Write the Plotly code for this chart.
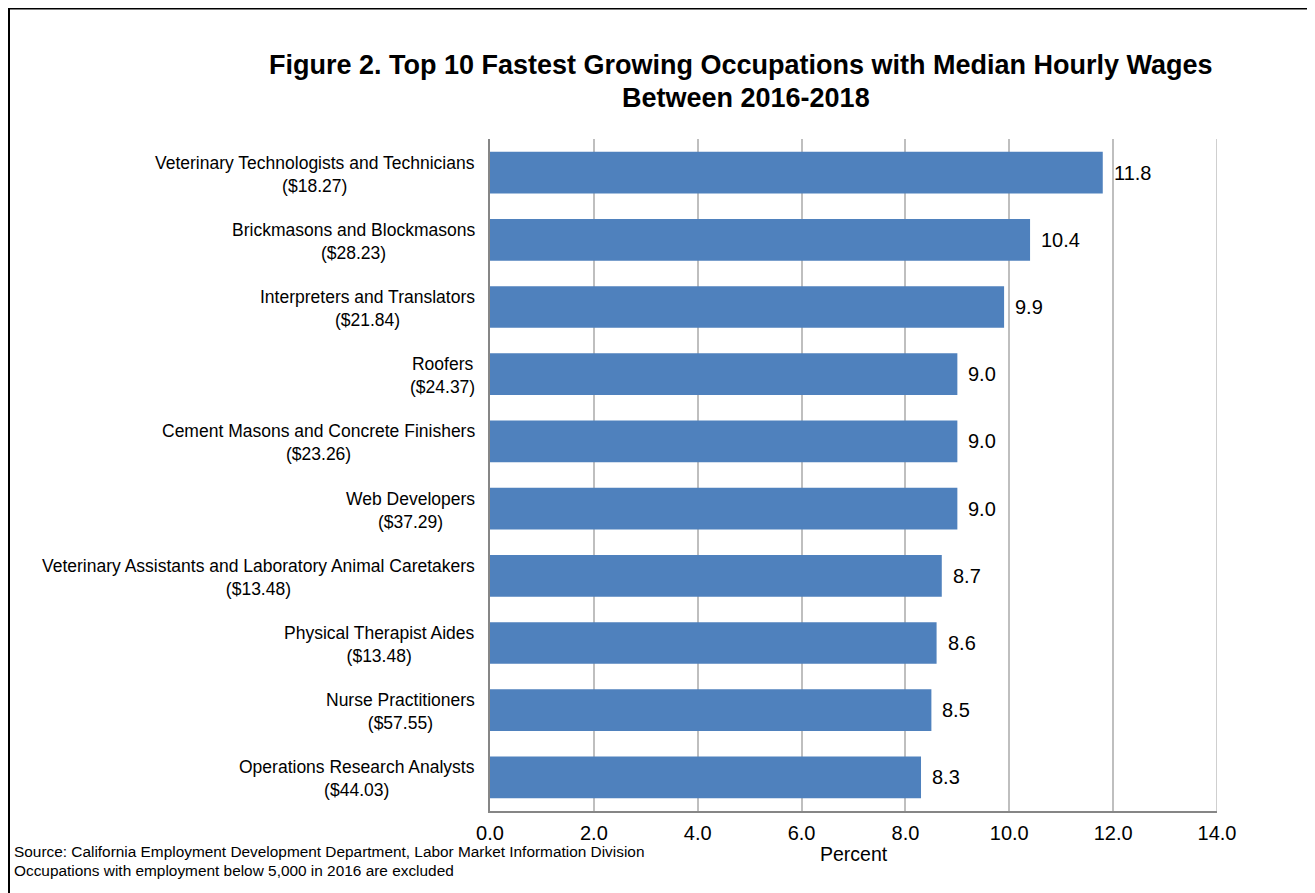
import plotly.graph_objects as go

occupations = [
    "Veterinary Technologists and Technicians",
    "Brickmasons and Blockmasons",
    "Interpreters and Translators",
    "Roofers",
    "Cement Masons and Concrete Finishers",
    "Web Developers",
    "Veterinary Assistants and Laboratory Animal Caretakers",
    "Physical Therapist Aides",
    "Nurse Practitioners",
    "Operations Research Analysts",
]
wages = ["$18.27", "$28.23", "$21.84", "$24.37", "$23.26",
         "$37.29", "$13.48", "$13.48", "$57.55", "$44.03"]
growth = [11.8, 10.4, 9.9, 9.0, 9.0, 9.0, 8.7, 8.6, 8.5, 8.3]
x_ticks = [0, 2, 4, 6, 8, 10, 12, 14]
x_ticktext = ["0.0", "2.0", "4.0", "6.0", "8.0", "10.0", "12.0", "14.0"]
title_lines = ["Figure 2. Top 10 Fastest Growing Occupations with Median Hourly Wages",
               "Between 2016-2018"]
source_lines = ["Source: California Employment Development Department, Labor Market Information Division",
                "Occupations with employment below 5,000 in 2016 are excluded"]

# page offset (browser body margin)
OFF = 8
W, H = 1307, 885
L, T = 490 - OFF, 139 - OFF
R = W - (1217 - OFF)
B = H - (811 - OFF)
pw, ph = W - L - R, H - T - B


def px(page_x):
    return (page_x - OFF - L) / pw


def py(page_y):
    return (H - B - (page_y - OFF)) / ph


FONT = "Arial, Liberation Sans, sans-serif"
BLACK = "#000000"
GRID = "#BFBFBF"

fig = go.Figure()
fig.add_trace(go.Bar(
    y=occupations, x=growth, orientation="h",
    marker=dict(color="#4F81BD", line=dict(width=0)),
    width=0.62, hoverinfo="skip",
))

annotations = []
for occ, w, g in zip(occupations, wages, growth):
    annotations.append(dict(
        x=0, xref="paper", y=occ, yref="y", xanchor="right", yanchor="middle",
        xshift=-13, yshift=-1.5, align="center", showarrow=False,
        text=f"{occ}<br>({w})", font=dict(family=FONT, size=17.5, color=BLACK),
    ))
    annotations.append(dict(
        x=g, xref="x", y=occ, yref="y", xanchor="left", yanchor="middle",
        xshift=9, showarrow=False, text=f"{g:.1f}",
        font=dict(family=FONT, size=20, color=BLACK),
    ))

# Title (two lines)
for txt, cx, cy in zip(title_lines, [740.5, 746], [65, 97.5]):
    annotations.append(dict(
        x=px(cx), xref="paper", y=py(cy), yref="paper",
        xanchor="center", yanchor="middle", showarrow=False,
        text=f"<b>{txt}</b>", font=dict(family=FONT, size=27, color=BLACK),
    ))

# Axis title
annotations.append(dict(
    x=0.5, xref="paper", y=py(854), yref="paper",
    xanchor="center", yanchor="middle", showarrow=False,
    text="Percent", font=dict(family=FONT, size=19.5, color=BLACK),
))

# Source note
for txt, cy in zip(source_lines, [852, 870]):
    annotations.append(dict(
        x=px(12), xref="paper", y=py(cy), yref="paper",
        xanchor="left", yanchor="middle", showarrow=False,
        text=txt, font=dict(family=FONT, size=15.4, color=BLACK),
    ))

shapes = [dict(
    type="rect", xref="paper", yref="paper",
    x0=px(9), x1=px(W + 40),
    y0=py(H + 40), y1=py(OFF + 0.5),
    line=dict(color=BLACK, width=2), fillcolor="rgba(0,0,0,0)",
)]
# gridline at the right end of the range
shapes.append(dict(
    type="line", xref="x", yref="paper", x0=x_ticks[-1], x1=x_ticks[-1],
    y0=0, y1=1, line=dict(color=GRID, width=1.5), layer="below",
))

fig.update_layout(
    width=W, height=H,
    margin=dict(l=L, r=R, t=T, b=B),
    paper_bgcolor="white", plot_bgcolor="white",
    showlegend=False,
    annotations=annotations,
    shapes=shapes,
    xaxis=dict(
        range=[0, 14], tickvals=x_ticks, ticktext=x_ticktext,
        showgrid=True, gridcolor=GRID, gridwidth=1.5,
        showline=True, linecolor="#868686", linewidth=1.5,
        zeroline=False, ticks="", ticklabelstandoff=3,
        tickfont=dict(family=FONT, size=20, color=BLACK),
        fixedrange=True,
    ),
    yaxis=dict(
        categoryorder="array", categoryarray=occupations[::-1],
        showticklabels=False, showgrid=False, zeroline=False,
        showline=True, linecolor="#868686", linewidth=1.5, ticks="",
        range=[-0.5, 9.5], fixedrange=True,
    ),
)

fig.write_html("out.html")
